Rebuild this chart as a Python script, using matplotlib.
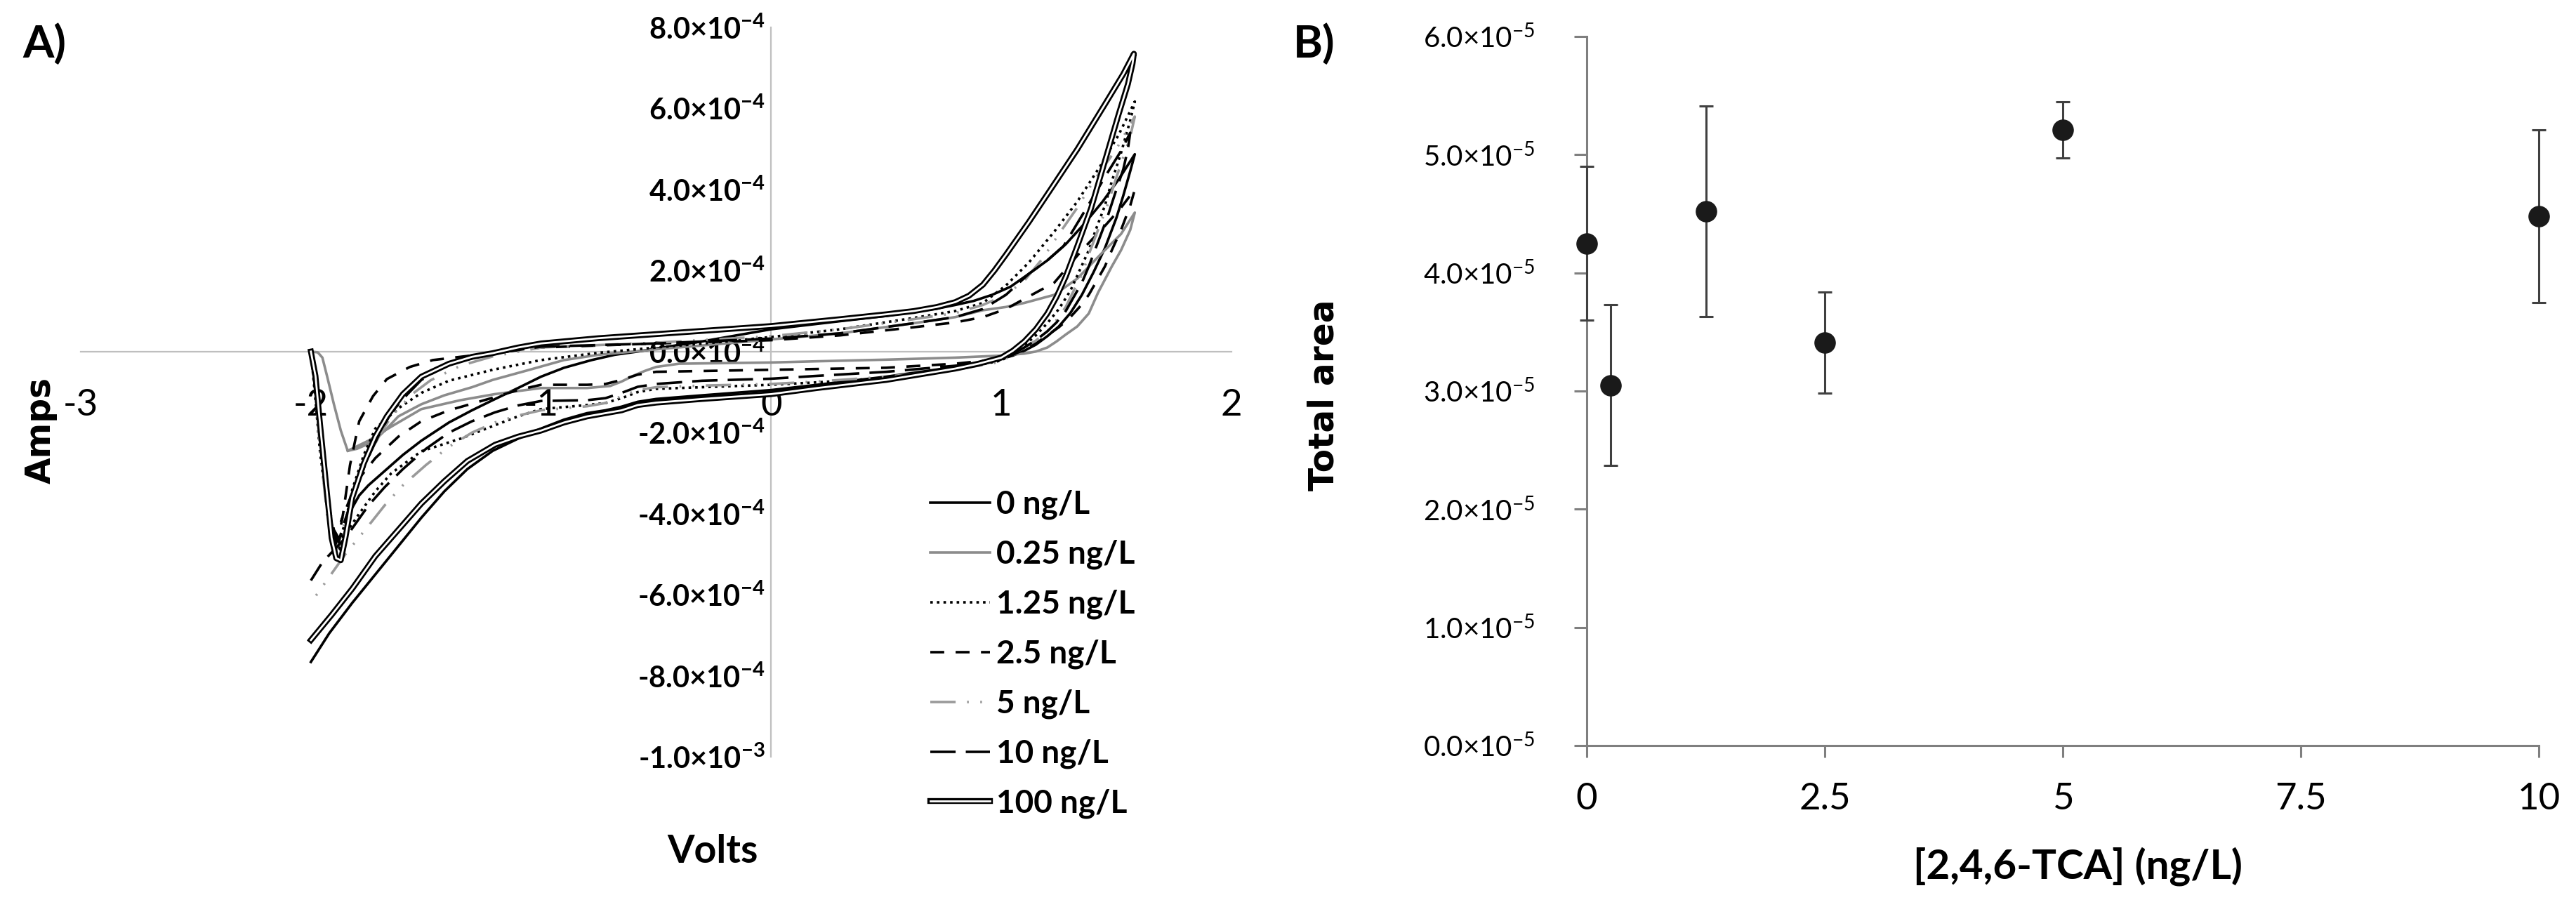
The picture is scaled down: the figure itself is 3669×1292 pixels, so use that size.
import numpy as np
import matplotlib
matplotlib.use('Agg')
import matplotlib.pyplot as plt
import matplotlib.patheffects as pe

plt.rcParams['font.family'] = ['Lato', 'DejaVu Sans']
plt.rcParams['mathtext.default'] = 'regular'

W, H = 3669, 1292

# ---------- A) cyclic voltammograms: (potential V, current x1e-4 A)
cv_0 = [(-2.00, 0.0), (-1.98, -1.0), (-1.95, -2.6), (-1.92, -4.0), (-1.89, -4.75), (-1.87, -4.9), (-1.85, -4.5),
        (-1.83, -3.95), (-1.79, -3.55), (-1.75, -3.3), (-1.67, -2.9), (-1.60, -2.55), (-1.52, -2.2), (-1.40, -1.75),
        (-1.30, -1.45), (-1.21, -1.2), (-1.10, -0.9), (-1.00, -0.62), (-0.90, -0.4), (-0.78, -0.21), (-0.68, -0.08),
        (-0.58, 0.0), (-0.45, 0.12), (-0.30, 0.25), (-0.15, 0.4), (0.00, 0.55), (0.30, 0.75), (0.50, 0.88), (0.62, 0.98),
        (0.72, 1.06), (0.80, 1.15), (0.88, 1.25), (0.96, 1.4), (1.04, 1.6), (1.12, 1.92), (1.20, 2.25), (1.28, 2.65),
        (1.36, 3.15), (1.44, 3.7), (1.51, 4.25), (1.58, 4.87),
        (1.56, 4.45), (1.53, 3.85), (1.50, 3.3), (1.45, 2.55), (1.40, 1.95), (1.35, 1.4), (1.30, 0.95), (1.25, 0.62),
        (1.20, 0.38), (1.15, 0.17), (1.10, 0.02), (1.05, -0.1), (1.00, -0.18), (0.90, -0.3), (0.80, -0.38), (0.65, -0.5),
        (0.50, -0.62), (0.35, -0.72), (0.20, -0.82), (0.00, -0.95), (-0.30, -1.08), (-0.50, -1.17), (-0.58, -1.24),
        (-0.65, -1.36), (-0.72, -1.45), (-0.80, -1.52), (-0.90, -1.68), (-1.00, -1.9), (-1.10, -2.15), (-1.21, -2.45),
        (-1.32, -2.9), (-1.42, -3.45), (-1.52, -4.1), (-1.62, -4.8), (-1.72, -5.5), (-1.82, -6.2), (-1.92, -6.95),
        (-2.00, -7.66)]

cv_025 = [(-2.00, 0.0), (-1.97, -0.02), (-1.95, -0.15), (-1.93, -0.6), (-1.90, -1.3), (-1.87, -1.95), (-1.84, -2.45),
          (-1.80, -2.4), (-1.76, -2.3), (-1.72, -2.18), (-1.67, -1.9), (-1.62, -1.6), (-1.52, -1.3), (-1.42, -1.08),
          (-1.30, -0.88), (-1.21, -0.7), (-1.05, -0.45), (-0.90, -0.21), (-0.75, -0.08), (-0.60, 0.0), (-0.45, 0.08),
          (-0.30, 0.15), (0.00, 0.3), (0.30, 0.45), (0.62, 0.7), (0.80, 0.85), (0.92, 1.02), (1.02, 1.1), (1.10, 1.2),
          (1.23, 1.4), (1.33, 1.8), (1.43, 2.39), (1.52, 2.9), (1.58, 3.43),
          (1.56, 3.0), (1.52, 2.5), (1.48, 2.1), (1.42, 1.45), (1.38, 0.94), (1.33, 0.62), (1.28, 0.42), (1.24, 0.25),
          (1.20, 0.1), (1.15, 0.0), (1.10, -0.05), (1.00, -0.1), (0.80, -0.15), (0.50, -0.2), (0.20, -0.24),
          (0.00, -0.27), (-0.40, -0.3), (-0.50, -0.38), (-0.55, -0.48), (-0.60, -0.6), (-0.65, -0.74), (-0.70, -0.85),
          (-0.80, -0.9), (-1.00, -0.9), (-1.20, -1.05), (-1.35, -1.2), (-1.52, -1.42), (-1.65, -1.85), (-1.75, -2.2),
          (-1.84, -2.45)]

cv_125 = [(-2.00, 0.0), (-1.98, -1.2), (-1.96, -2.5), (-1.93, -3.8), (-1.91, -4.5), (-1.88, -4.75), (-1.85, -4.2),
          (-1.82, -3.4), (-1.77, -2.55), (-1.72, -1.9), (-1.62, -1.4), (-1.52, -1.02), (-1.40, -0.72), (-1.21, -0.45),
          (-1.00, -0.21), (-0.75, -0.03), (-0.50, 0.1), (-0.25, 0.22), (0.00, 0.36), (0.30, 0.55), (0.62, 0.83),
          (0.80, 1.0), (0.92, 1.2), (1.02, 1.63), (1.12, 2.2), (1.23, 2.96), (1.33, 3.7), (1.43, 4.58), (1.51, 5.35),
          (1.58, 6.17),
          (1.56, 5.7), (1.52, 4.9), (1.48, 4.2), (1.45, 3.6), (1.41, 3.0), (1.38, 2.5), (1.34, 2.0), (1.30, 1.5),
          (1.25, 1.05), (1.20, 0.7), (1.15, 0.4), (1.10, 0.15), (1.05, -0.05), (1.00, -0.22), (0.80, -0.45),
          (0.50, -0.65), (0.20, -0.76), (0.00, -0.82), (-0.30, -0.88), (-0.50, -0.92), (-0.58, -1.0), (-0.65, -1.15),
          (-0.72, -1.27), (-0.80, -1.32), (-1.00, -1.42), (-1.10, -1.6), (-1.21, -1.84), (-1.35, -2.15), (-1.52, -2.46),
          (-1.65, -3.0), (-1.72, -3.45), (-1.79, -4.0), (-1.85, -4.5), (-1.89, -4.75)]

cv_25 = [(-2.00, 0.0), (-1.98, -1.0), (-1.96, -2.3), (-1.93, -3.6), (-1.90, -4.4), (-1.88, -4.6), (-1.86, -4.0),
         (-1.83, -2.8), (-1.79, -1.72), (-1.73, -1.1), (-1.67, -0.68), (-1.57, -0.38), (-1.47, -0.21), (-1.26, -0.07),
         (-1.00, 0.1), (-0.50, 0.2), (0.00, 0.28), (0.30, 0.4), (0.62, 0.6), (0.80, 0.72), (0.92, 0.85), (1.02, 1.05),
         (1.10, 1.3), (1.23, 1.7), (1.35, 2.5), (1.45, 3.1), (1.52, 3.55), (1.58, 4.0),
         (1.56, 3.6), (1.52, 3.0), (1.48, 2.5), (1.45, 2.1), (1.41, 1.7), (1.38, 1.4), (1.34, 1.1), (1.30, 0.85),
         (1.25, 0.6), (1.20, 0.4), (1.15, 0.2), (1.10, 0.05), (1.05, -0.08), (1.00, -0.18), (0.80, -0.3), (0.50, -0.4),
         (0.20, -0.43), (0.00, -0.45), (-0.30, -0.48), (-0.50, -0.5), (-0.58, -0.57), (-0.65, -0.7), (-0.72, -0.8),
         (-0.80, -0.82), (-1.00, -0.82), (-1.10, -0.95), (-1.21, -1.14), (-1.40, -1.45), (-1.52, -1.72), (-1.62, -2.1),
         (-1.72, -2.63), (-1.80, -3.2), (-1.87, -4.2)]

cv_5 = [(-2.00, 0.0), (-1.98, -1.0), (-1.96, -2.4), (-1.93, -4.0), (-1.91, -4.7), (-1.89, -4.9), (-1.86, -4.4),
        (-1.84, -3.9), (-1.80, -3.2), (-1.76, -2.7), (-1.70, -2.05), (-1.65, -1.6), (-1.56, -1.05), (-1.48, -0.71),
        (-1.35, -0.35), (-1.21, -0.12), (-1.00, 0.1), (-0.50, 0.22), (0.00, 0.38), (0.30, 0.55), (0.62, 0.8),
        (0.80, 0.95), (0.92, 1.15), (1.02, 1.4), (1.10, 1.75), (1.18, 2.3), (1.25, 2.9), (1.33, 3.55), (1.40, 4.2),
        (1.50, 5.0), (1.58, 5.8),
        (1.56, 5.3), (1.53, 4.8), (1.50, 4.3), (1.46, 3.6), (1.42, 3.0), (1.38, 2.4), (1.35, 1.9), (1.31, 1.45),
        (1.28, 1.1), (1.24, 0.78), (1.20, 0.5), (1.15, 0.27), (1.10, 0.1), (1.05, -0.06), (1.00, -0.25), (0.80, -0.45),
        (0.50, -0.62), (0.20, -0.74), (0.00, -0.8), (-0.30, -0.84), (-0.50, -0.88), (-0.58, -0.95), (-0.65, -1.1),
        (-0.72, -1.27), (-0.80, -1.35), (-1.00, -1.45), (-1.10, -1.58), (-1.20, -1.75), (-1.30, -2.0), (-1.40, -2.35),
        (-1.50, -2.8), (-1.60, -3.3), (-1.68, -3.8), (-1.75, -4.3), (-1.85, -5.0), (-1.95, -5.8), (-2.00, -6.2)]

cv_10 = [(-2.00, 0.0), (-1.98, -1.0), (-1.96, -2.2), (-1.93, -3.6), (-1.90, -4.5), (-1.88, -4.7), (-1.86, -4.3),
         (-1.83, -3.8), (-1.79, -3.15), (-1.75, -2.6), (-1.70, -2.0), (-1.65, -1.5), (-1.58, -1.05), (-1.52, -0.7),
         (-1.40, -0.3), (-1.21, -0.05), (-1.00, 0.12), (-0.50, 0.2), (0.00, 0.32), (0.30, 0.45), (0.62, 0.7),
         (0.80, 0.85), (0.92, 1.05), (1.02, 1.4), (1.12, 1.92), (1.20, 2.25), (1.27, 2.6), (1.37, 3.54), (1.46, 4.4),
         (1.52, 4.95), (1.56, 5.4),
         (1.55, 5.0), (1.53, 4.5), (1.50, 4.0), (1.46, 3.3), (1.42, 2.7), (1.38, 2.1), (1.35, 1.7), (1.31, 1.3),
         (1.28, 1.0), (1.24, 0.72), (1.20, 0.5), (1.15, 0.28), (1.10, 0.1), (1.05, -0.06), (1.00, -0.2), (0.80, -0.35),
         (0.50, -0.5), (0.20, -0.6), (0.00, -0.67), (-0.30, -0.72), (-0.50, -0.8), (-0.58, -0.87), (-0.65, -1.02),
         (-0.72, -1.15), (-0.80, -1.2), (-1.00, -1.22), (-1.10, -1.33), (-1.20, -1.5), (-1.30, -1.72), (-1.40, -2.0),
         (-1.50, -2.4), (-1.60, -2.9), (-1.68, -3.35), (-1.75, -3.8), (-1.85, -4.6), (-1.95, -5.2), (-2.00, -5.65)]

cv_100 = [(-2.00, 0.0), (-1.98, -0.6), (-1.96, -1.8), (-1.93, -3.5), (-1.91, -4.6), (-1.89, -5.1), (-1.87, -5.15),
          (-1.85, -4.6), (-1.82, -3.6), (-1.77, -2.76), (-1.72, -2.1), (-1.67, -1.6), (-1.60, -1.05), (-1.52, -0.62),
          (-1.40, -0.3), (-1.30, -0.13), (-1.21, -0.04), (-1.10, 0.1), (-1.00, 0.2), (-0.75, 0.33), (-0.50, 0.43),
          (-0.25, 0.53), (0.00, 0.63), (0.30, 0.8), (0.50, 0.92), (0.62, 1.0), (0.72, 1.1), (0.80, 1.22), (0.86, 1.38),
          (0.92, 1.65), (0.97, 2.0), (1.02, 2.39), (1.12, 3.2), (1.22, 4.05), (1.33, 4.99), (1.45, 6.1), (1.53, 6.85),
          (1.576, 7.35),
          (1.57, 7.1), (1.55, 6.6), (1.51, 5.86), (1.45, 4.7), (1.39, 3.54), (1.33, 2.6), (1.28, 1.85), (1.24, 1.35),
          (1.20, 0.94), (1.15, 0.55), (1.10, 0.25), (1.05, 0.02), (1.00, -0.15), (0.90, -0.3), (0.80, -0.42),
          (0.65, -0.56), (0.50, -0.7), (0.35, -0.8), (0.20, -0.9), (0.00, -1.05), (-0.30, -1.17), (-0.50, -1.26),
          (-0.58, -1.32), (-0.65, -1.45), (-0.72, -1.52), (-0.80, -1.6), (-0.90, -1.75), (-1.00, -1.95), (-1.10, -2.1),
          (-1.20, -2.3), (-1.32, -2.7), (-1.42, -3.2), (-1.52, -3.75), (-1.62, -4.4), (-1.72, -5.05), (-1.82, -5.85),
          (-1.91, -6.5), (-2.00, -7.12)]

cv_labels = ['0 ng/L', '0.25 ng/L', '1.25 ng/L', '2.5 ng/L', '5 ng/L', '10 ng/L', '100 ng/L']

a_xticks = [-3, -2, -1, 0, 1, 2]
a_yticks = [-10, -8, -6, -4, -2, 0, 2, 4, 6, 8]
a_yticklabels = ['-1.0×10$^{-3}$', '-8.0×10$^{-4}$', '-6.0×10$^{-4}$', '-4.0×10$^{-4}$', '-2.0×10$^{-4}$',
                 '0.0×10$^{-4}$', '2.0×10$^{-4}$', '4.0×10$^{-4}$', '6.0×10$^{-4}$', '8.0×10$^{-4}$']

# ---------- B) total area vs TCA concentration (x1e-5)
conc = [0, 0.25, 1.25, 2.5, 5, 10]
area = [4.25, 3.05, 4.52, 3.41, 5.21, 4.48]
area_err = [0.65, 0.68, 0.89, 0.43, 0.24, 0.73]
b_xticks = [0, 2.5, 5, 7.5, 10]
b_xticklabels = ['0', '2.5', '5', '7.5', '10']
b_yticks = [0, 1, 2, 3, 4, 5, 6]
b_yticklabels = ['%d.0×10$^{-5}$' % t for t in b_yticks]

fig = plt.figure(figsize=(W / 100, H / 100), dpi=100)


def px_axes(x0, y0, x1, y1):
    # pixel box (top-left origin) -> axes
    return fig.add_axes([x0 / W, 1 - y1 / H, (x1 - x0) / W, (y1 - y0) / H])


# ---- panel A
ax = px_axes(115, 39, 1754, 1078)
lw = 2.6
styles = [
    dict(color='black', lw=lw, ls='-'),
    dict(color='#8c8c8c', lw=lw, ls='-'),
    dict(color='black', lw=lw, ls=(0, (1, 1.6))),
    dict(color='black', lw=lw, ls=(0, (5.5, 4.5))),
    dict(color='#9a9a9a', lw=lw, ls=(0, (10, 4.5, 0.7, 4.5, 0.7, 4.5))),
    dict(color='black', lw=lw, ls=(0, (10, 4))),
    dict(color='white', lw=2.0, ls='-',
         path_effects=[pe.Stroke(linewidth=6.0, foreground='black'), pe.Normal()]),
]
series = [cv_0, cv_025, cv_125, cv_25, cv_5, cv_10, cv_100]
for pts, st, lab in zip(series, styles, cv_labels):
    v, i = zip(*pts)
    ax.plot(v, np.array(i) * 1e-4, label=lab, solid_joinstyle='round', **st)

ax.set_xlim(-3, 2)
ax.set_ylim(-10e-4, 8e-4)
for s in ['top', 'right']:
    ax.spines[s].set_visible(False)
for s in ['left', 'bottom']:
    ax.spines[s].set_position('zero')
    ax.spines[s].set_color('#bfbfbf')
    ax.spines[s].set_linewidth(1.6)
    ax.spines[s].set_zorder(0)
ax.set_xticks(a_xticks)
ax.set_xticklabels([str(t) for t in a_xticks])
ax.set_yticks(np.array(a_yticks) * 1e-4)
ax.set_yticklabels(a_yticklabels)
ax.tick_params(axis='x', length=0, pad=38, labelsize=38)
ax.tick_params(axis='y', length=0, pad=6, labelsize=30)
for t in ax.get_yticklabels():
    t.set_fontweight('bold')
ax.patch.set_visible(False)

leg = ax.legend(loc='upper left', bbox_to_anchor=(1325 / W, 1 - 698 / H), bbox_transform=fig.transFigure,
                frameon=False, borderpad=0, borderaxespad=0, handlelength=1.85, handletextpad=0.2,
                labelspacing=0.62, prop={'family': 'Lato', 'weight': 'bold', 'size': 33})

fig.text(63 / W, 1 - 62 / H, 'A)', ha='center', va='center', fontsize=46, fontweight='bold')
fig.text(58 / W, 1 - 613 / H, 'Amps', ha='center', va='center', rotation=90,
         fontsize=35, fontweight='bold', family='DejaVu Sans')
fig.text(1015 / W, 1 - 1213 / H, 'Volts', ha='center', va='center', fontsize=40, fontweight='bold')

# ---- panel B
bx = px_axes(2260, 52, 3616, 1062)
eb = bx.errorbar(conc, np.array(area) * 1e-5, yerr=np.array(area_err) * 1e-5, fmt='o',
                 color='#1a1a1a', markersize=21, ecolor='#404040', elinewidth=2.2,
                 capsize=7, capthick=2.2, zorder=3)
eb[0].set_clip_on(False)
for art in list(eb[1]) + list(eb[2]):
    art.set_clip_on(False)
bx.set_xlim(0, 10)
bx.set_ylim(0, 6e-5)
for s in ['top', 'right']:
    bx.spines[s].set_visible(False)
for s in ['left', 'bottom']:
    bx.spines[s].set_color('#7f7f7f')
    bx.spines[s].set_linewidth(2.2)
bx.set_xticks(b_xticks)
bx.set_xticklabels(b_xticklabels)
bx.set_yticks(np.array(b_yticks) * 1e-5)
bx.set_yticklabels(b_yticklabels)
bx.tick_params(axis='x', direction='out', length=12, width=2.2, color='#7f7f7f', pad=26, labelsize=38)
bx.tick_params(axis='y', direction='out', length=13, width=2.2, color='#7f7f7f', pad=40, labelsize=29)

fig.text(1872 / W, 1 - 62 / H, 'B)', ha='center', va='center', fontsize=46, fontweight='bold')
fig.text(1886 / W, 1 - 563 / H, 'Total area', ha='center', va='center', rotation=90,
         fontsize=35, fontweight='bold', family='DejaVu Sans')
fig.text(2959 / W, 1 - 1234 / H, '[2,4,6-TCA] (ng/L)', ha='center', va='center', fontsize=42, fontweight='bold')

fig.savefig('out.png', dpi=100)
